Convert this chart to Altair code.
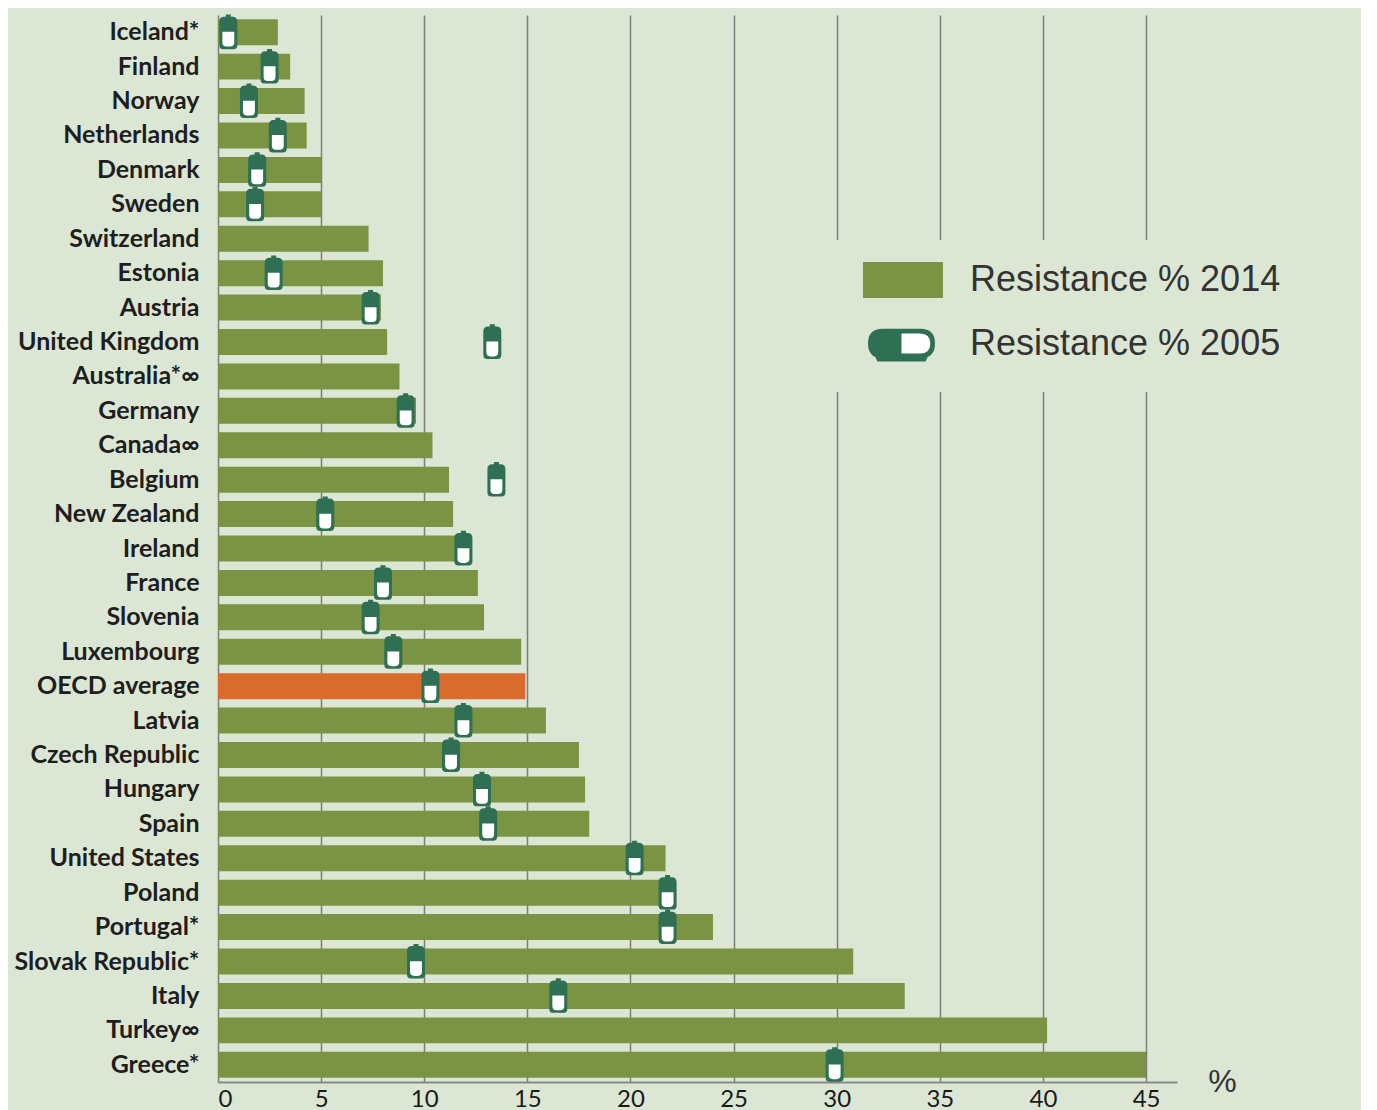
import altair as alt
import pandas as pd

countries = ["Iceland*", "Finland", "Norway", "Netherlands", "Denmark", "Sweden",
             "Switzerland", "Estonia", "Austria", "United Kingdom", "Australia*∞",
             "Germany", "Canada∞", "Belgium", "New Zealand", "Ireland", "France",
             "Slovenia", "Luxembourg", "OECD average", "Latvia", "Czech Republic",
             "Hungary", "Spain", "United States", "Poland", "Portugal*",
             "Slovak Republic*", "Italy", "Turkey∞", "Greece*"]
r2014 = [2.9, 3.5, 4.2, 4.3, 5.0, 5.0, 7.3, 8.0, 7.9, 8.2, 8.8, 9.6, 10.4, 11.2,
         11.4, 12.1, 12.6, 12.9, 14.7, 14.9, 15.9, 17.5, 17.8, 18.0, 21.7, 21.8,
         24.0, 30.8, 33.3, 40.2, 45.0]
r2005 = [0.5, 2.5, 1.5, 2.9, 1.9, 1.8, None, 2.7, 7.4, 13.3, None, 9.1, None,
         13.5, 5.2, 11.9, 8.0, 7.4, 8.5, 10.3, 11.9, 11.3, 12.8, 13.1, 20.2,
         21.8, 21.8, 9.6, 16.5, None, 29.9]
x_ticks = [0, 5, 10, 15, 20, 25, 30, 35, 40, 45]
lab2014 = "Resistance % 2014"
lab2005 = "Resistance % 2005"

BG = "#dce6d4"
GREEN = "#7a9443"
ORANGE = "#d96b2d"
DARK = "#2f6f53"

bars_df = pd.DataFrame({
    "country": countries,
    "value": r2014,
    "kind": [("OECD average" if c == "OECD average" else lab2014) for c in countries],
})
pill_df = pd.DataFrame({"country": countries, "value": r2005})
pill_df = pill_df.dropna().assign(series=lab2005)

VPILL_OUTER = ("M-0.14,-0.98 L0.14,-0.98 L0.14,-0.84 L-0.14,-0.84 Z "
               "M-0.5,-0.58 Q-0.5,-0.86 -0.22,-0.86 L0.22,-0.86 Q0.5,-0.86 0.5,-0.58 "
               "L0.5,0.72 Q0.5,0.94 0.28,0.94 L-0.28,0.94 Q-0.5,0.94 -0.5,0.72 Z")
VPILL_INNER = ("M-0.33,-0.02 L0.33,-0.02 L0.33,0.56 Q0.33,0.8 0.1,0.8 L-0.1,0.8 "
               "Q-0.33,0.8 -0.33,0.56 Z")
HPILL_OUTER = ("M-0.56,-0.44 L0.56,-0.44 Q1,-0.44 1,0 Q1,0.44 0.56,0.44 L-0.56,0.44 "
               "Q-1,0.44 -1,0 Q-1,-0.44 -0.56,-0.44 Z M-0.78,0.4 L0.78,0.4 L0.72,0.54 L-0.72,0.54 Z")
HPILL_INNER = "M0,-0.3 L0.55,-0.3 Q0.86,-0.3 0.86,0 Q0.86,0.3 0.55,0.3 L0,0.3 Z"
RECT_SYM = "M-1,-0.45 L1,-0.45 L1,0.45 L-1,0.45 Z"

x_axis = alt.Axis(values=x_ticks, grid=True, gridColor="#7d7d7d", gridWidth=1.5,
                  domainColor="#8a8a8a", domainWidth=2, ticks=False,
                  labelFont="Lato", labelFontSize=24, labelColor="#1a1a1a",
                  labelPadding=5, title="%", titleFont="Liberation Sans",
                  titleFontSize=32, titleFontWeight="normal", titleColor="#333333",
                  titleX=1004, titleY=-1, titleAlign="center", titleBaseline="middle",
                  titleAngle=0)
x_enc = alt.X("value:Q", scale=alt.Scale(domain=[0, 46.5], nice=False), axis=x_axis)
y_enc = alt.Y("country:N", sort=countries,
              scale=alt.Scale(paddingInner=0.245, paddingOuter=0.1225),
              axis=alt.Axis(title=None, domain=False, ticks=False, grid=False,
                            labelFont="Lato", labelFontWeight="bold", labelFontSize=25,
                            labelColor="#1e1e1e", labelPadding=19, labelLimit=300,
                            minExtent=205, maxExtent=205))

LX = 572
common_leg = dict(orient="none", legendX=LX, title=None, fillColor=BG,
                  symbolStrokeWidth=0, symbolOpacity=1, labelFont="Liberation Sans",
                  labelFontSize=36, labelColor="#333333", labelLimit=500)

bars = alt.Chart(bars_df).mark_bar().encode(
    x=x_enc, y=y_enc,
    color=alt.Color("kind:N",
                    scale=alt.Scale(domain=[lab2014, "OECD average"], range=[GREEN, ORANGE]),
                    legend=alt.Legend(legendY=225, values=[lab2014], padding=0,
                                      symbolType=RECT_SYM, symbolSize=6400,
                                      symbolOffset=73, labelOffset=27, zindex=3,
                                      **common_leg)),
)

outer = alt.Chart(pill_df).mark_point(shape=VPILL_OUTER, size=1296, filled=True,
                                      opacity=1, strokeWidth=0).encode(
    x=x_enc, y=y_enc,
    fill=alt.Fill("series:N", scale=alt.Scale(domain=[lab2005], range=[DARK]),
                  legend=alt.Legend(legendY=265, padding=30, symbolType=HPILL_OUTER,
                                    symbolSize=4489, symbolOffset=48, labelOffset=35,
                                    zindex=1, **common_leg)),
)

inner_leg = dict(common_leg)
inner_leg["fillColor"] = "transparent"
inner = alt.Chart(pill_df).mark_point(shape=VPILL_INNER, size=1296, filled=True,
                                      opacity=1, strokeWidth=0).encode(
    x=x_enc, y=y_enc,
    fill=alt.Fill("series:N", scale=alt.Scale(domain=[lab2005], range=["#ffffff"]),
                  legend=alt.Legend(legendY=265, padding=30, symbolType=HPILL_INNER,
                                    symbolSize=4489, symbolOffset=48, labelOffset=35,
                                    labelExpr="''", zindex=2, **inner_leg)),
)

chart = alt.layer(bars, outer, inner).resolve_scale(fill="independent").properties(
    width=959, height=1067, background=BG,
    padding={"left": 5, "top": 6, "right": 50, "bottom": 5},
).configure_view(stroke=None)

chart.save("out.html", embed_options={"renderer": "svg", "actions": False})
